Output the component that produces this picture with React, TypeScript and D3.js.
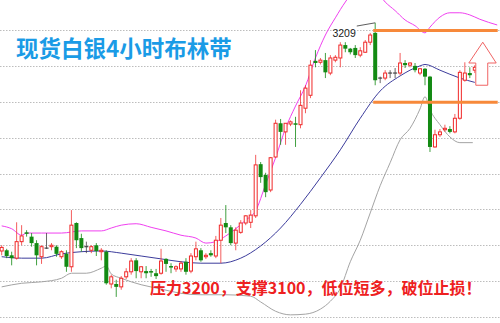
import React from "react";
import * as d3 from "d3";

// ---- Data (prices) ----
const opens = [2892,2893,2886,2882,2905,2918,2912,2903,2884,2896,2898,2898,2884,2888,2870,2931,2910,2898,2893,2900,2891,2891,2846,2846,2842,2856,2863,2879,2863,2864,2864,2861,2861,2881,2871,2867,2867,2877,2864,2884,2893,2884,2889,2885,2907,2931,2925,2903,2918,2931,2932,2941,3013,2998,2977,3023,3070,3058,3069,3070,3068,3091,3109,3157,3155,3158,3140,3158,3161,3179,3174,3175,3165,3169,3183,3196,3133,3133,3140,3140,3140,3154,3151,3150,3140,3146,3135,3037,3054,3061,3062,3058,3077,3130,3140,3144];
const highs = [2900,2895,2891,2932,2928,2921,2917,2907,2900,2917,2903,2900,2893,2893,2949,2932,2916,2905,2900,2903,2896,2893,2859,2852,2857,2868,2882,2882,2871,2871,2867,2867,2895,2882,2875,2872,2878,2882,2889,2905,2896,2889,2893,2913,2938,2956,2928,2925,2935,2942,2949,3026,3016,3001,3023,3075,3076,3070,3074,3079,3116,3123,3158,3172,3161,3168,3165,3165,3183,3183,3175,3179,3176,3186,3196,3210,3135,3144,3144,3147,3168,3158,3155,3154,3147,3147,3136,3061,3062,3068,3066,3083,3144,3155,3148,3151];
const lows = [2886,2882,2872,2880,2900,2912,2898,2872,2874,2895,2893,2884,2881,2863,2863,2896,2891,2889,2889,2885,2879,2845,2840,2828,2838,2853,2859,2854,2854,2854,2856,2853,2859,2863,2861,2863,2863,2859,2861,2879,2877,2881,2884,2882,2875,2917,2900,2893,2916,2928,2924,2938,2987,2967,2974,3022,3040,3040,3066,3037,3063,3084,3105,3148,3152,3133,3137,3155,3148,3169,3166,3161,3162,3168,3179,3123,3126,3130,3133,3133,3137,3147,3148,3141,3137,3123,3030,3036,3051,3058,3056,3056,3075,3128,3133,3140];
const closes = [2897,2885,2882,2905,2913,2916,2903,2886,2898,2896,2900,2888,2891,2870,2928,2907,2896,2898,2898,2892,2893,2847,2856,2842,2854,2863,2878,2864,2870,2861,2863,2857,2878,2874,2870,2870,2875,2863,2885,2895,2879,2886,2886,2907,2928,2925,2903,2921,2931,2941,2942,3012,2995,2974,3022,3070,3058,3070,3072,3068,3095,3119,3151,3154,3158,3141,3161,3162,3179,3174,3169,3165,3171,3183,3193,3130,3133,3140,3140,3140,3154,3151,3154,3144,3146,3135,3037,3054,3058,3063,3058,3077,3141,3140,3137,3148];

// Bollinger bands: [candle index, price]
const upperBand: [number, number][] = [[0,2927],[2,2923],[4,2914],[5,2917],[8,2917],[12,2917],[16,2920],[20,2920],[22,2924],[24,2928],[27,2930],[30,2925],[33,2920],[36,2914],[39,2910],[41,2903],[43,2905],[45,2913],[47,2923],[49,2935],[51,2948],[53,2985],[55,3022],[57,3063],[59,3094],[61,3122],[63,3161],[65,3193],[67,3217],[69,3239],[72,3263],[75,3256],[77,3239],[79,3227],[81,3214],[83,3206],[85,3196],[86,3204],[88,3218],[90,3224],[92,3224],[94,3221],[96,3215],[99.5,3207]];
const middleBand: [number, number][] = [[0,2884],[4,2882],[8,2882],[12,2888],[16,2891],[20,2892],[24,2889],[28,2885],[32,2881],[36,2877],[40,2875],[44,2875],[48,2882],[52,2899],[56,2924],[60,2957],[64,2994],[68,3033],[72,3077],[76,3115],[80,3136],[84,3150],[85,3152],[88,3144],[92,3133],[95,3127]];
const lowerBand: [number, number][] = [[0,2842],[4,2847],[8,2849],[12,2854],[14,2861],[17,2861],[20,2868],[21,2871],[22,2860],[24,2854],[28,2845],[32,2839],[36,2833],[40,2831],[45,2831],[50,2829],[52,2821],[55,2808],[58,2803],[61,2804],[64,2811],[66,2822],[68,2840],[70,2877],[72,2907],[74,2945],[76,2983],[78,3015],[80,3047],[82,3063],[84,3090],[85,3107],[86,3089],[88,3068],[90,3051],[92,3043],[94.6,3043]];

const gridPrices = [2800, 2850, 2900, 2950, 3000, 3050, 3100, 3150, 3200];
const keyLevels = [3200, 3100];
const levelSpan = [74.6, 99.6];
const highLabel = "3209";
const titleText = "现货白银4小时布林带";
const noteText = "压力3200，支撑3100，低位短多，破位止损！";
// up arrow annotation in data units
const arrowIdx = { tip: 96.6, headL: 93.8, headR: 99.3, shaftL: 95.2, shaftR: 97.6 };
const arrowPrice = { tip: 3183, head: 3154, base: 3123 };

const W = 500, H = 323;

export default function App() {
  const x = d3.scaleLinear().domain([0, 95]).range([1.7, 1.7 + 95 * 4.98]);
  const y = d3.scaleLinear().domain([2800, 3200]).range([317, 30]);
  const line = d3.line<[number, number]>().x(d => x(d[0])).y(d => y(d[1])).curve(d3.curveMonotoneX);

  const bw = 4;
  const candles = opens.map((o, i) => ({ i, o, h: highs[i], l: lows[i], c: closes[i] }));

  const topIdx = 75;
  const arrowPts: [number, number][] = [
    [x(arrowIdx.tip), y(arrowPrice.tip)],
    [x(arrowIdx.headR), y(arrowPrice.head)],
    [x(arrowIdx.shaftR), y(arrowPrice.head)],
    [x(arrowIdx.shaftR), y(arrowPrice.base)],
    [x(arrowIdx.shaftL), y(arrowPrice.base)],
    [x(arrowIdx.shaftL), y(arrowPrice.head)],
    [x(arrowIdx.headL), y(arrowPrice.head)],
  ];

  return (
    <svg width={W} height={H} style={{ position: "absolute", left: 0, top: 0, background: "#fff", display: "block" }}>
      <rect width={W} height={H} fill="#fff" />
      {gridPrices.map(p => (
        <line key={p} x1={0} x2={W} y1={Math.round(y(p)) + 0.5} y2={Math.round(y(p)) + 0.5}
          stroke="#bdbdbd" strokeWidth={1} strokeDasharray="1.5 1.5" />
      ))}
      <path d={line(lowerBand) || ""} fill="none" stroke="#a4a4a4" strokeWidth={1} />
      <path d={line(middleBand) || ""} fill="none" stroke="#3c3c9c" strokeWidth={1} />
      <path d={line(upperBand) || ""} fill="none" stroke="#f040f0" strokeWidth={1} />
      {candles.map(d => {
        const cx = x(d.i);
        const doji = Math.abs(d.c - d.o) < 1;
        const up = d.c > d.o;
        const col = doji ? "#444" : up ? "#f02828" : "#138a13";
        const top = y(Math.max(d.o, d.c));
        const bot = y(Math.min(d.o, d.c));
        return (
          <g key={d.i}>
            <line x1={cx} x2={cx} y1={y(d.h)} y2={y(d.l)} stroke={col} strokeWidth={1} opacity={up ? 0.75 : 0.8} />
            {doji ? (
              <line x1={cx - 2} x2={cx + 2} y1={top} y2={top} stroke={col} strokeWidth={1.2} />
            ) : up ? (
              <rect x={cx - bw / 2 + 0.5} y={top} width={bw - 1} height={Math.max(bot - top, 1)} fill="#fff" stroke={col} strokeWidth={1} />
            ) : (
              <rect x={cx - bw / 2} y={top} width={bw} height={Math.max(bot - top, 1.5)} fill={col} />
            )}
          </g>
        );
      })}
      {keyLevels.map(p => (
        <line key={p} x1={x(levelSpan[0])} x2={x(levelSpan[1])} y1={y(p) + 0.5} y2={y(p) + 0.5}
          stroke="#f7893a" strokeWidth={3} />
      ))}
      <polygon points={arrowPts.map(p => p.join(",")).join(" ")} fill="#fff" stroke="#f06464" strokeWidth={1} />
      <line x1={x(71.3)} y1={y(3205.5)} x2={x(topIdx)} y2={y(highs[topIdx])} stroke="#333" strokeWidth={0.8} />
      <text x={x(71.3) - 1} y={36.5} textAnchor="end" fontFamily="'Liberation Sans', Arial, sans-serif" fontSize={10.5} fill="#222">{highLabel}</text>
      <text x={16} y={57} fontFamily="'Noto Sans CJK SC', sans-serif" fontWeight="bold" fontSize={22.5} fill="#1a9be6">{titleText}</text>
      <text x={150} y={294} fontFamily="'Noto Sans CJK SC', sans-serif" fontWeight="bold" fontSize={16} fill="#ee2020">{noteText}</text>
    </svg>
  );
}
